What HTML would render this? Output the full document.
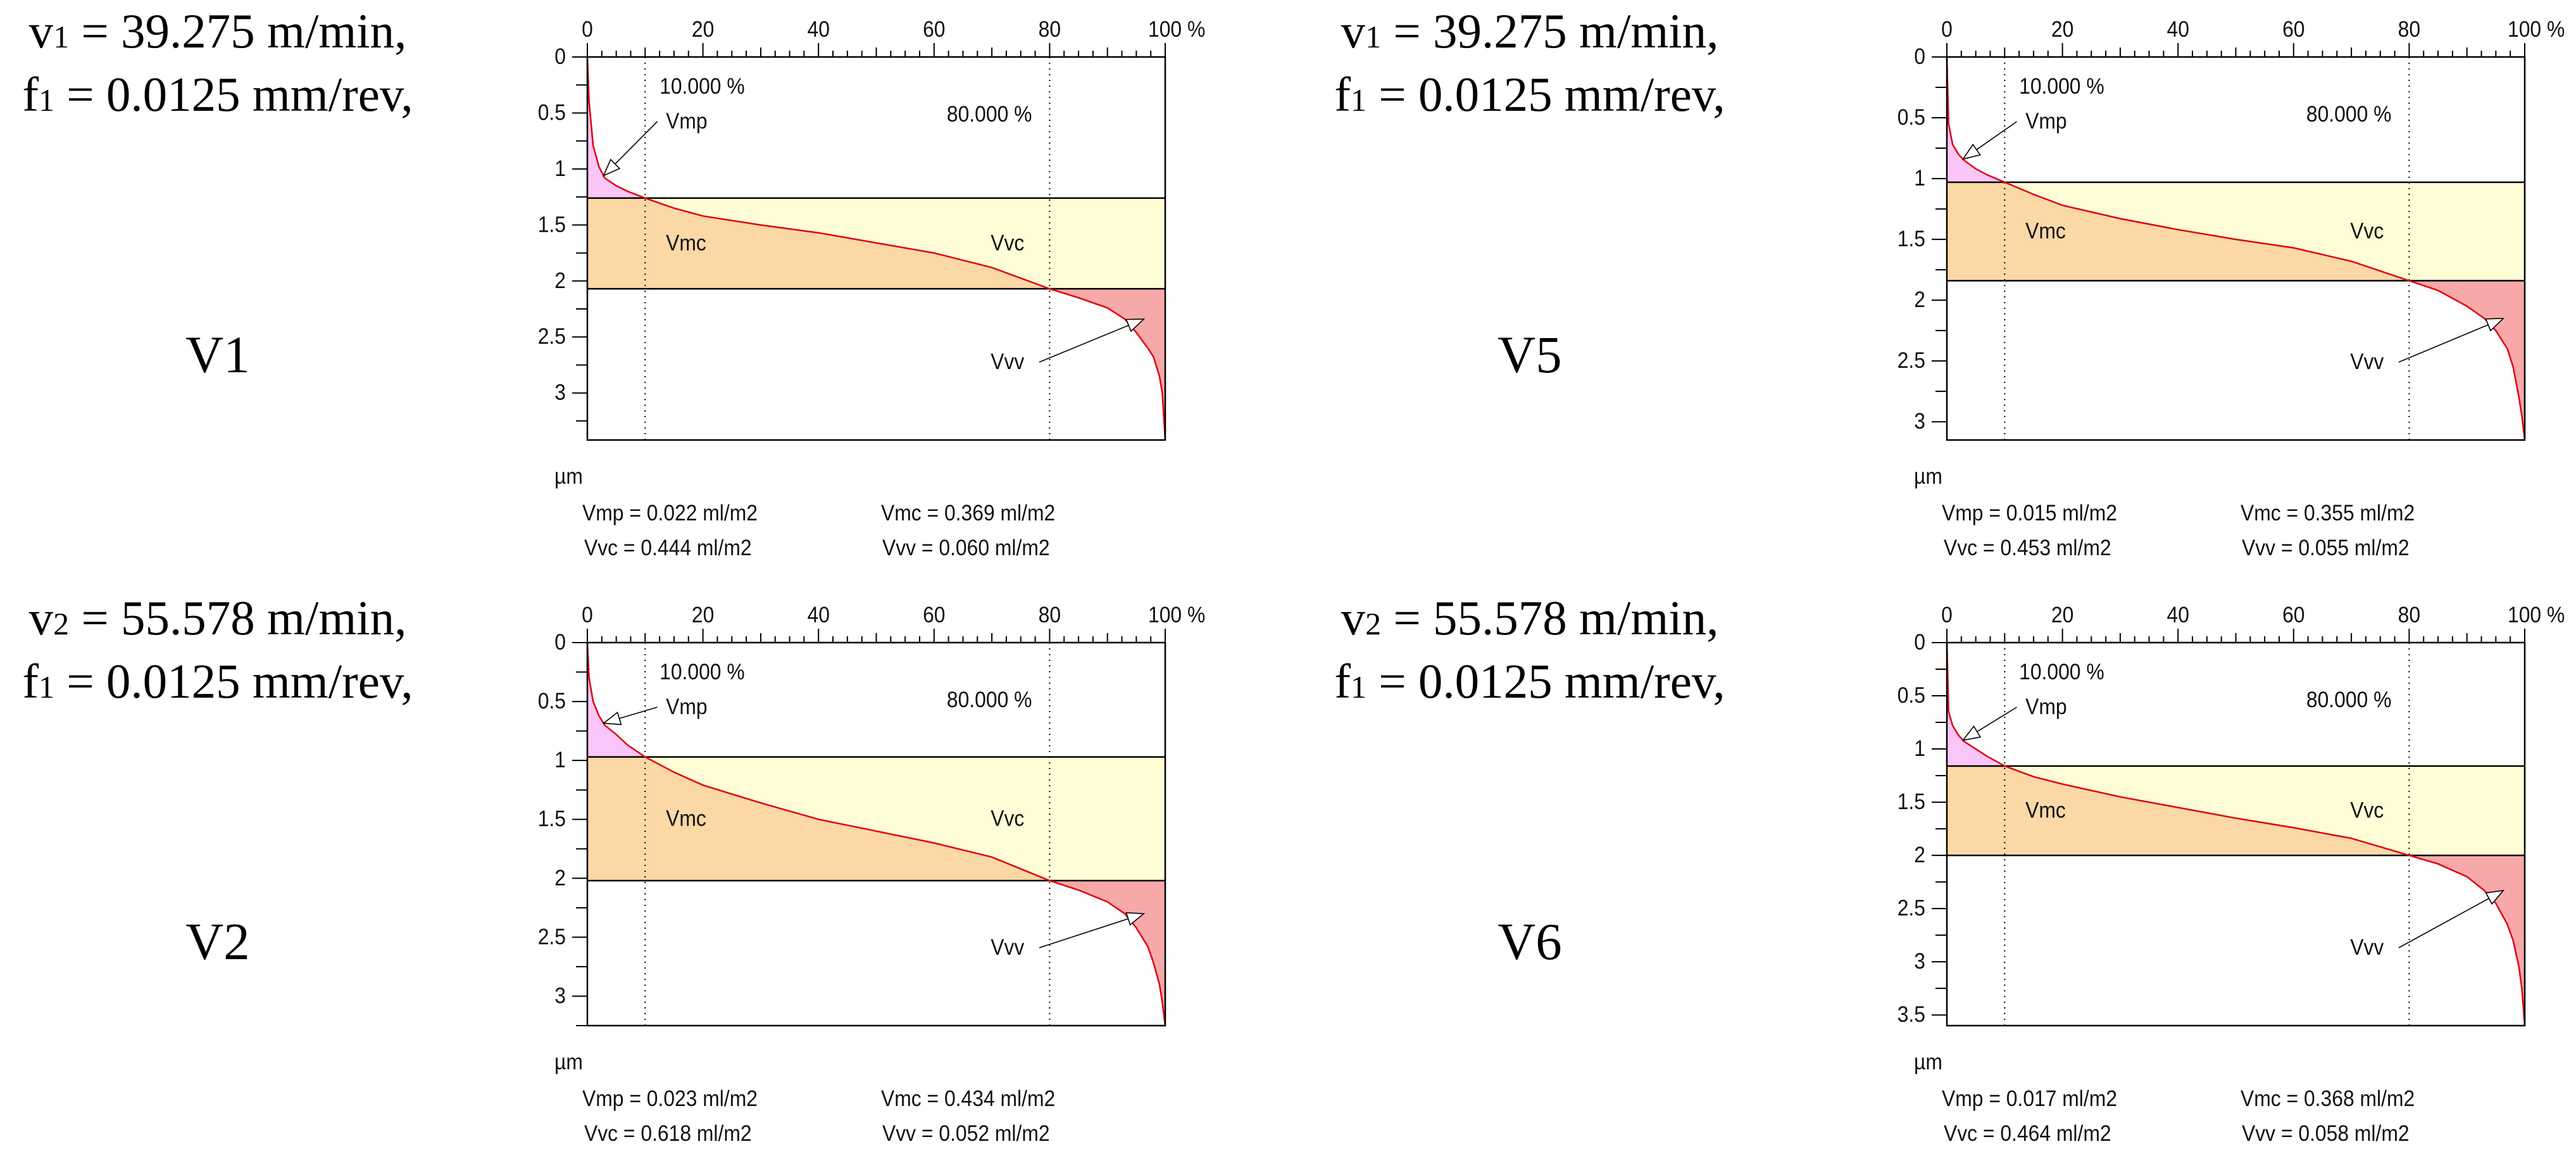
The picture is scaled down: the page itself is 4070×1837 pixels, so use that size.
<!DOCTYPE html>
<html><head><meta charset="utf-8"><title>Abbott-Firestone volume parameters</title>
<style>html,body{margin:0;padding:0;background:#fff}svg{display:block}</style></head>
<body>
<svg id="fig" xmlns="http://www.w3.org/2000/svg" width="4070" height="1837" viewBox="0 0 4070 1837">
<rect width="4070" height="1837" fill="#fff"/>
</svg>
<script>
// ---- data ----
const pct = [0,0.3,1,2,3,5,7,10,15,20,30,40,50,60,70,80,85,90,93,95,97,98,99,99.5,100];
const depthV1 = [0,0.4,0.79,0.98,1.08,1.15,1.2,1.26,1.35,1.42,1.5,1.57,1.66,1.75,1.88,2.07,2.15,2.24,2.34,2.46,2.6,2.68,2.85,3.0,3.42];
const depthV5 = [0,0.55,0.72,0.8,0.85,0.92,0.97,1.03,1.13,1.22,1.33,1.42,1.5,1.57,1.68,1.84,1.92,2.05,2.15,2.25,2.4,2.55,2.8,2.95,3.15];
const depthV2 = [0,0.3,0.5,0.62,0.7,0.78,0.87,0.97,1.1,1.21,1.36,1.5,1.6,1.7,1.82,2.02,2.1,2.2,2.3,2.42,2.58,2.72,2.9,3.05,3.25];
const depthV6 = [0,0.65,0.78,0.87,0.93,1.0,1.07,1.16,1.26,1.33,1.45,1.55,1.65,1.74,1.84,2.0,2.08,2.2,2.33,2.45,2.65,2.8,3.05,3.25,3.6];
const xTickLabels = ["0","20","40","60","80","100 %"];
const xTickValues = [0,20,40,60,80,100];
const yTicksV1 = [0,0.5,1,1.5,2,2.5,3];
const yTicksV6 = [0,0.5,1,1.5,2,2.5,3,3.5];
const thresholds = [10,80];
const thresholdLabels = ["10.000 %","80.000 %"];
const statsV1 = ["Vmp = 0.022 ml/m2","Vmc = 0.369 ml/m2","Vvc = 0.444 ml/m2","Vvv = 0.060 ml/m2"];
const statsV5 = ["Vmp = 0.015 ml/m2","Vmc = 0.355 ml/m2","Vvc = 0.453 ml/m2","Vvv = 0.055 ml/m2"];
const statsV2 = ["Vmp = 0.023 ml/m2","Vmc = 0.434 ml/m2","Vvc = 0.618 ml/m2","Vvv = 0.052 ml/m2"];
const statsV6 = ["Vmp = 0.017 ml/m2","Vmc = 0.368 ml/m2","Vvc = 0.464 ml/m2","Vvv = 0.058 ml/m2"];
const yMaxList = [3.42,3.15,3.25,3.6];

const NS = "http://www.w3.org/2000/svg";
const svg = document.getElementById('fig');
function mk(tag, attrs, parent){
  const e = document.createElementNS(NS, tag);
  for (const k in attrs) e.setAttribute(k, attrs[k]);
  (parent||svg).appendChild(e);
  return e;
}
function txt(parent, x, y, s, anchor, name){
  const t = mk('text', {x:0, y:0, transform:`translate(${x},${y}) scale(0.91,1)`, 'font-family':'"Liberation Sans", Arial, sans-serif', 'font-size':35, fill:'#111', 'text-anchor':anchor||'start', 'dominant-baseline':'central'}, parent);
  t.textContent = s;
  
  
  return t;
}
function interp(p, depth){
  for (let i=1;i<pct.length;i++){
    if (p <= pct[i]){ const f=(p-pct[i-1])/(pct[i]-pct[i-1]); return depth[i-1]+f*(depth[i]-depth[i-1]); }
  }
  return depth[depth.length-1];
}

const charts = [
  {key:'v1', L:928, T:90, depth:depthV1, yMax:yMaxList[0], yTicks:yTicksV1, stats:statsV1, label:'V1', cx:344, ty:0, sub1:'1', speed:'39.275'},
  {key:'v5', L:3076, T:90, depth:depthV5, yMax:yMaxList[1], yTicks:yTicksV1, stats:statsV5, label:'V5', cx:2417, ty:0, sub1:'1', speed:'39.275'},
  {key:'v2', L:928, T:1015, depth:depthV2, yMax:yMaxList[2], yTicks:yTicksV1, stats:statsV2, label:'V2', cx:344, ty:927, sub1:'2', speed:'55.578'},
  {key:'v6', L:3076, T:1015, depth:depthV6, yMax:yMaxList[3], yTicks:yTicksV6, stats:statsV6, label:'V6', cx:2417, ty:927, sub1:'2', speed:'55.578'}
];
const W = 913, H = 605;

charts.forEach(c => {
  const g = mk('g', {});
  
  
  const X = p => c.L + p/100*W;
  const Y = d => c.T + d/c.yMax*H;
  const c1 = interp(thresholds[0], c.depth), c2 = interp(thresholds[1], c.depth);
  const B = c.T + H, R = c.L + W;

  // condition text
  const tg = mk('g', {'font-family':'"Liberation Serif", "Times New Roman", serif', 'font-size':77, fill:'#000', 'text-anchor':'middle'}, svg);
  
  
  const l1 = mk('text', {x:c.cx, y:75 + c.ty}, tg);
  l1.innerHTML = `v<tspan font-size="50">${c.sub1}</tspan> = ${c.speed} m/min,`;
  const l2 = mk('text', {x:c.cx, y:175 + c.ty}, tg);
  l2.innerHTML = `f<tspan font-size="50">1</tspan> = 0.0125 mm/rev,`;
  const l3 = mk('text', {x:c.cx, y:588 + c.ty, 'font-size':83}, tg);
  l3.textContent = c.label;

  // curve points
  const pts = pct.map((p,i)=>[X(p), Y(c.depth[i])]);
  const ptsStr = pts.map(p=>p[0].toFixed(1)+','+p[1].toFixed(1)).join(' ');
  const id = c.key;
  const defs = mk('defs', {}, g);
  const cp1 = mk('clipPath', {id:id+'c1'}, defs); mk('rect', {x:c.L, y:c.T, width:W, height:Y(c1)-c.T}, cp1);
  const cp2 = mk('clipPath', {id:id+'c2'}, defs); mk('rect', {x:c.L, y:Y(c1), width:W, height:Y(c2)-Y(c1)}, cp2);
  const cp3 = mk('clipPath', {id:id+'c3'}, defs); mk('rect', {x:c.L, y:Y(c2), width:W, height:B-Y(c2)}, cp3);

  const band = mk('rect', {x:c.L, y:Y(c1), width:W, height:Y(c2)-Y(c1), fill:'#fffdd6'}, g);
   
  const leftArea = ptsStr + ` ${c.L},${B} ${c.L},${c.T}`;
  const rightArea = ptsStr + ` ${R},${B} ${R},${c.T}`;
  const pink = mk('polygon', {points:leftArea, fill:'#f9c6f7', 'clip-path':`url(#${id}c1)`}, g);
   
  const orange = mk('polygon', {points:leftArea, fill:'#fbd8a6', 'clip-path':`url(#${id}c2)`}, g);
   
  const red = mk('polygon', {points:rightArea, fill:'#f7a9a9', 'clip-path':`url(#${id}c3)`}, g);
   

  // threshold vertical dotted lines
  thresholds.forEach((t,i)=>{
    const l = mk('line', {x1:X(t), x2:X(t), y1:c.T, y2:B, stroke:'#000', 'stroke-width':2, 'stroke-dasharray':'2,7'}, g);
    
    
  });
  // horizontal band lines
  [c1,c2].forEach((d,i)=>{
    const l = mk('line', {x1:c.L, x2:R, y1:Y(d), y2:Y(d), stroke:'#000', 'stroke-width':2.5}, g);
    
    
  });
  // curve
  const curve = mk('polyline', {points:ptsStr, fill:'none', stroke:'#e00010', 'stroke-width':2.5}, g);
  
  

  // frame
  const fr = mk('rect', {x:c.L, y:c.T, width:W, height:H, fill:'none', stroke:'#000', 'stroke-width':2.5}, g);
   

  // x ticks
  for (let p=0; p<=100; p+=2.5){
    const len = (p%20===0)?22:((p%10===0)?15:10);
    mk('line', {x1:X(p), x2:X(p), y1:c.T, y2:c.T-len, stroke:'#000', 'stroke-width':2}, g);
  }
  xTickValues.forEach((v,i)=>{
    const lab = xTickLabels[i];
    if (lab.indexOf('%')>=0) txt(g, X(v)-27, c.T-43, lab, 'start', 'x-tick-label');
    else txt(g, X(v), c.T-43, lab, 'middle', 'x-tick-label');
  });
  // y ticks
  for (let d=0; d<=c.yMax+1e-9; d+=0.25){
    const major = Math.abs(d*2-Math.round(d*2))<1e-9;
    mk('line', {x1:c.L-(major?24:18), x2:c.L, y1:Y(d), y2:Y(d), stroke:'#000', 'stroke-width':2}, g);
  }
  c.yTicks.forEach(v=>{ txt(g, c.L-34, Y(v), String(v), 'end', 'y-tick-label'); });
  txt(g, c.L-52, B+58, 'µm', 'start', 'y-axis-unit');

  // annotations
  txt(g, X(12.5), c.T+47, thresholdLabels[0], 'start', 'threshold-label-10');
  txt(g, X(62.2), c.T+91, thresholdLabels[1], 'start', 'threshold-label-80');
  txt(g, X(13.6), c.T+102, 'Vmp', 'start', 'vmp-label');
  const bandMid = (Y(c1)+Y(c2))/2;
  txt(g, X(13.6), bandMid, 'Vmc', 'start', 'vmc-label');
  txt(g, X(69.8), bandMid, 'Vvc', 'start', 'vvc-label');
  txt(g, X(69.8), c.T+482, 'Vvv', 'start', 'vvv-label');

  function arrow(x0,y0,x1,y1,name){
    const ag = mk('g', {}, g);
    
    
    const dx=x1-x0, dy=y1-y0, L=Math.hypot(dx,dy), ux=dx/L, uy=dy/L;
    const hl=26, hw=10;
    const bx=x1-ux*hl, by=y1-uy*hl;
    mk('line', {x1:x0, y1:y0, x2:bx, y2:by, stroke:'#000', 'stroke-width':1.6}, ag);
    mk('polygon', {points:`${x1},${y1} ${bx-uy*hw},${by+ux*hw} ${bx+uy*hw},${by-ux*hw}`, fill:'#fff', stroke:'#000', 'stroke-width':1.6}, ag);
  }
  arrow(X(12.1), c.T+102, X(2.8), Y(interp(2.8, c.depth)), 'vmp-arrow');
  arrow(X(78.2), c.T+482, X(96.3), Y(interp(93, c.depth)), 'vvv-arrow');

  // stats
  txt(g, c.L-8, B+116, c.stats[0], 'start', 'stat-vmp');
  txt(g, c.L+464, B+116, c.stats[1], 'start', 'stat-vmc');
  txt(g, c.L-5, B+171, c.stats[2], 'start', 'stat-vvc');
  txt(g, c.L+466, B+171, c.stats[3], 'start', 'stat-vvv');
});
</script>
</body></html>
